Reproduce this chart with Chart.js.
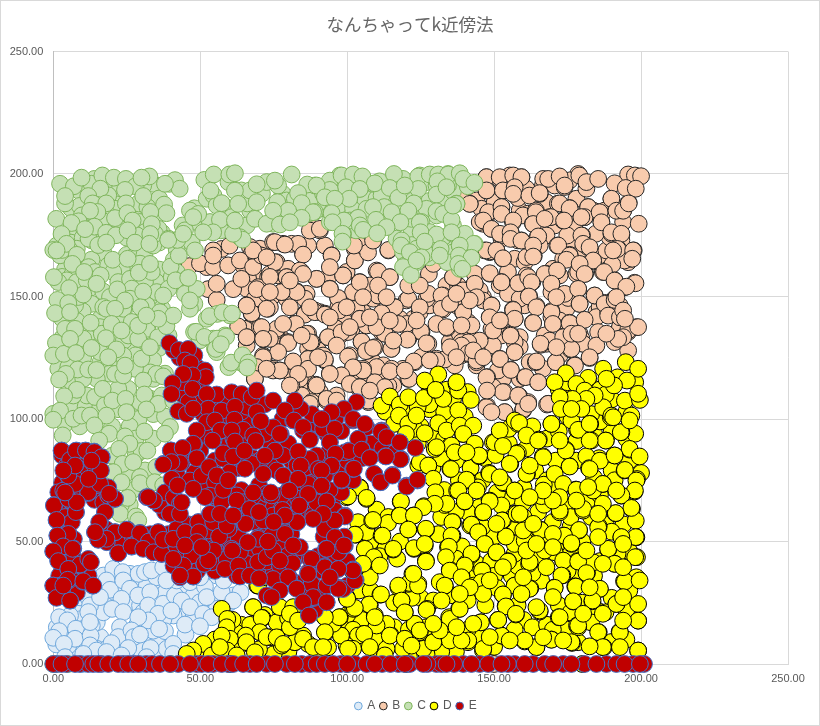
<!DOCTYPE html>
<html><head><meta charset="utf-8">
<script src="https://cdn.jsdelivr.net/npm/chart.js@4"></script>
<style>
html,body{margin:0;padding:0;background:#fff}
#w{position:relative;width:820px;height:726px;overflow:hidden}
#f{position:absolute;left:0;top:0;width:818px;height:724px;border:1px solid #d9d9d9;pointer-events:none}
canvas{display:block}
</style></head><body>
<div id="w"><canvas id="c" width="820" height="726"></canvas><div id="f"></div></div>
<script>
const chartTitle = "なんちゃってk近傍法";
const seriesNames = ["A","B","C","D","E"];
const axisMax = 250, axisStep = 50;

const pointsA = [[20.4,38.8],[23.6,37.5],[29,36.8],[31.2,37.5],[35.1,35.4],[33.4,38.2],[37.4,39.5],[18.1,34.1],[19.3,30.3],[23.8,34.1],[26.1,30.7],[28.9,28],[33,29.3],[23.2,26.6],[12.5,23.9],[11.9,21.2],[15.9,27.3],[20,22.5],[23.8,21.2],[32.3,23.9],[37.4,24.6],[41.4,28],[43.7,25.9],[46.5,23.2],[42,34.1],[46.5,33.4],[51.6,31.6],[52.2,27.3],[57.3,29.3],[58,34.1],[53.4,38.2],[51,20.5],[53.9,19.1],[63.7,29.3],[61.2,25.9],[35.7,20.5],[32.3,17.8],[28.9,19.1],[40.2,21.8],[44.8,16.1],[49.9,15.4],[38,13.4],[36,14.4],[22.7,15],[2,19.1],[4.8,17.8],[2,13.4],[0,10.7],[7.7,14.4],[7.4,10.3],[3.6,8.2],[12.7,11.6],[12.5,7.6],[22.1,11],[19.8,8.5],[26.6,13.7],[27.4,11],[29.5,12],[25.5,6.5],[33.1,6.5],[40.8,8.2],[40.8,4.1],[4,2.8],[14.7,5.5],[10.2,4.1],[18.1,4.9],[23.2,3.5],[31.7,2.8],[12.5,17.1],[38.5,34.1],[50,35.4],[10,0],[30,0]];
const moreA = [[10.2,22.5],[9.7,18.4],[14.8,17],[13.1,15.7],[17.6,24.5],[17,21.1],[14.2,30.7],[9.1,27.2],[11.9,27.2],[21,29.3],[26.1,36.8],[17,36.1],[21.6,32],[31.8,32],[27.2,25.2],[29.5,23.9],[34,21.1],[30.6,21.1],[40.9,19.8],[41.4,24.5],[47.7,27.9],[49.9,25.2],[55.6,22.5],[51,36.1],[55.6,36.1],[47.7,19.1],[35.8,15.7],[23.8,13],[28.4,15.7],[34,13.6],[1.2,15],[5.7,19.8],[10.2,14.3],[10.2,10.2],[14.8,6.2],[5.1,7.5],[18.2,6.2],[29.5,6.2],[38.6,6.2],[37.5,18.4],[60.1,25.2],[61.3,28]];
const hiddenA = [[15,32],[27,34],[40,37],[47,37],[26,26],[34,32],[38,29],[44,31],[55,26],[48,22],[44,20],[16,11],[32,9],[36,10],[24,8],[7,7],[1,8],[6,11],[30,4],[37,4],[45,12]];

const pointsB = [[147.4,198.7],[151.9,198.7],[156.5,199.4],[159.3,198.7],[166.7,198],[168.4,198],[172.3,199],[179,199.4],[181.4,196.7],[185.4,198],[195.6,199.8],[197.9,199.4],[200,199.1],[191,196.2],[194.8,194.3],[198.2,194],[138.9,192.6],[147.4,193.3],[153,193.3],[157,194.6],[156.5,191.9],[162,191.2],[165.5,192.2],[174,195.3],[172.3,188],[175.7,186],[182,186.5],[180.8,182.4],[185.9,184.4],[189.9,189.9],[191.6,185],[193.9,185],[195.8,188],[186.5,180.3],[199.2,179.7],[141.7,187.8],[148,184.4],[146.3,181],[152.5,186.5],[152.5,183.7],[156.5,181],[164.2,184.4],[163.3,179.6],[169.3,182.4],[167.2,181.7],[173.8,181],[179.7,182.4],[149.1,177.6],[152,175.6],[155.6,176.2],[155.6,173.5],[159.3,172.8],[165,174.5],[163.3,170.8],[171.8,170.8],[179.7,174.9],[180.3,171.5],[182.5,170.1],[189.9,176.2],[193.3,175.6],[192,169.4],[190.5,168.8],[197.3,168.8],[197,165.4],[183.7,164.7],[175.7,166.7],[174.6,165],[179.1,163.3],[180.8,159.2],[187.4,160],[191,156.5],[198.1,155.4],[195,154],[147.4,168.8],[150.8,168.8],[153,165.6],[148.5,159.5],[152.5,155.8],[158.2,155.4],[163.3,166.3],[161.6,157.9],[167.2,159.2],[171.4,160.6],[162.7,155.8],[169.5,155.2],[143.4,155.2],[136,157.9],[127.8,159.2],[129.3,163.3],[127.6,151.1],[132.1,150.4],[120.8,149],[110.5,150.4],[102,151.8],[96.9,149.4],[94.1,153.1],[82.8,151.8],[77.7,151.8],[73.7,145.6],[149.1,146.3],[144,149.7],[156.5,144.5],[161.8,150],[164.4,145.6],[169.5,143.6],[174,151.1],[178.6,153.1],[179.1,147],[184.2,150.4],[187.6,147],[191,148.6],[188.8,142.2],[139.5,143.6],[132.1,145],[124.7,145.6],[116.2,145.6],[111.7,143.2],[97.3,144.3],[85.6,142.6],[89,143.6],[92.4,142.6],[148.5,141.5],[157,140.9],[163.3,139.2],[170,138.8],[175.7,139.1],[180.8,140.5],[192.8,137.5],[195.6,136.1],[199,137.5],[193.9,133.4],[192.2,132.7],[130.4,138.8],[133.8,137.5],[138.9,138.2],[120.2,138.8],[117.4,138.8],[112.8,134.8],[106.6,138.2],[104.3,140.9],[96.1,137],[82.5,138.8],[86.2,134.8],[87.5,131.3],[76,136.8],[125.1,135.8],[120.5,132.4],[127,130.9],[104.9,131.6],[93.5,133.4],[98.1,135.4],[96.4,130],[79.9,131],[76.5,127.3],[73.7,132.7],[145.1,132],[141.2,131.3],[138.9,130],[141.2,126.9],[155.6,134],[157,127.3],[152,124.5],[165.8,130.7],[173.5,133.4],[180.3,130.7],[184.8,130],[176.3,128.6],[182.5,125.2],[188.2,134.8],[106.4,127.7],[108.8,129],[115,128.6],[100.3,125.5],[92.4,124.3],[86.7,124.5],[81.6,123.5],[77.1,119.8],[133.2,124.3],[122.7,123.5],[130.4,123.9],[144,123.9],[164.4,123.5],[171,123.2],[177.5,121.8],[155.7,120],[160.7,117.1],[165,115],[147.4,117],[153,111],[158.7,108.9],[161.6,106.9],[168,105.9],[147.4,104.8],[153.6,102.8],[160,104.1],[147.6,111.6],[114.5,119.5],[109.4,115],[105.4,119.8],[102,121.1],[98,117.8],[94.1,118.4],[89.3,114],[86.7,120.5],[81,113.7],[83.3,118.4],[103.7,113],[100.9,114.3],[121.1,116.4],[119.6,119.8],[112.8,113],[93,107.5],[87.9,106.9],[107.1,107.5],[85,167.1],[94.7,166.7],[102.6,164.7],[114,169],[110.5,160.2],[107.1,168],[98.6,158.6],[94.1,162],[83.9,160.6],[79.4,157.9],[89.6,157.2],[73.7,159.2],[75.4,172.2],[78.8,171.2],[75.4,164],[87.3,176.9],[90.7,177.6],[102.3,170.8],[108.8,172.8],[114.5,157.9],[104.3,155.8],[110.5,154.5],[120.8,154.5],[124.7,154.5],[46.3,162.4],[52.2,162],[49.9,163.5],[57.3,169.4],[54.4,168.8],[60,170.8],[54.4,162],[59.5,162.7],[63.5,164.7],[68,162],[70.9,166.7],[73.7,158],[69.2,153],[61.2,153],[52.7,153],[55.6,148.6],[67.5,143.2],[65.8,146.3],[72.6,145],[62.9,137.8],[65.8,133.4],[70.9,137.5],[71.4,132.7],[71.4,125.2],[69.2,121.2],[68.6,116.4],[72.6,120.5],[73.7,151.8],[55.6,155.2],[64,157.2],[54.4,166.7],[68,168.8],[72.6,166],[192.8,141.5],[191.6,149.7],[171.2,149.7],[176.3,134.8],[178.6,134.8],[171.2,129.3],[193.9,144.3],[194.5,140.9],[135,129.3],[142.9,128],[146.3,125.2],[137.2,125.2],[128.1,123.9],[149.7,136.1],[152,140.2],[100.9,137.5],[110,137.5],[115.7,132],[90.1,125.2],[84.5,134],[78.2,138.8],[80.5,145.6],[87.3,145.6],[94.1,141.5],[107.7,141.5],[114.5,140.2],[123.6,140.2],[135,147],[141.7,148.4],[137.2,151.1],[99.8,145.6],[105.4,149.7],[113.4,149.7],[85,159.2],[80.5,156.5],[149.1,102.8],[158.2,109.6],[161.6,106.2],[168.4,106.2],[80.5,113.7],[89.6,113.7],[93,108.2],[96.4,107.5],[87.3,106.2],[104.3,113],[107.7,111.6],[100,0],[150,0]];
const moreB = [[67.5,167.4],[70.3,166.8],[74.8,172.2],[78.2,171.5],[76,164],[68,162.7],[64.6,162.7],[73.1,157.9],[69.7,153.8],[72.6,151.1],[77.7,151.8],[79.9,161.3],[79.4,157.9],[84.5,160],[82.8,152.1],[85.6,149.1],[89.6,157.2],[93.5,157.9],[94.1,153.2],[98.6,158.6],[97,149.1],[102.6,164.7],[102.3,151.8],[104.3,155.9],[110.6,150.4],[110,160.6],[114.5,157.9],[107.7,154.5],[114,168.8],[108.9,172.9],[104.3,170.8],[94.7,166.8],[85,167.4],[86.7,170.8],[88.4,177.6],[90.7,177],[83.3,171.5],[65.8,146.4],[67.5,142.9],[73.1,145],[70.3,137.5],[65.8,133.4],[71.4,132.8],[76,136.2],[79.9,131.4],[82.2,138.9],[85.6,143],[89,144.3],[92.4,143],[86.7,134.8],[87.9,131.4],[93.5,133.4],[96.4,136.8],[100.3,135.5],[97,145.7],[104.3,140.9],[106.6,138.2],[104.9,131.4],[107.2,128],[109.4,129.3],[112.8,134.8],[111.7,142.9],[116.2,145.7],[120.2,148.4],[115.1,128.7],[119.6,138.2],[120.8,132.8],[125.3,135.5],[127.6,130.7],[130.4,124.6],[123,123.2],[115.1,120.5],[110,121.2],[105.4,120.5],[100.9,126],[92.4,123.9],[86.7,124.6],[81.6,123.2],[77.1,119.8],[71.7,125.3],[74.8,119.8],[68.6,116.4],[81.1,113.7],[83.9,116.4],[89.6,113.7],[93,107.6],[94.1,118.5],[98.1,117.8],[102,121.2],[101.5,116.4],[104.3,113],[109.4,114.3],[107.2,106.9],[114,113.6],[120.8,116.4],[87.9,109.6],[84.5,109.6],[147.4,198.7],[151.9,198],[147.4,193.3],[153,193.3],[158.1,190.2],[161,194],[165.5,191.9],[170.6,195.3],[174,194.7],[175.7,197.4],[141.7,187.9],[147.9,183.8],[145.1,180.4],[149.1,177.6],[152.5,186.5],[156.4,180.4],[159.8,183.1],[164.2,185.1],[163.2,179.7],[168.9,182.4],[173.5,181],[171.7,187.9],[175.7,186.1],[182,186.5],[180.8,182.4],[186.5,180.4],[177.4,177.6],[184.6,175.6],[189.9,189.9],[193.9,185.1],[195.8,188.3],[191.6,185.8],[193.9,180.4],[189.9,175.6],[193.3,175],[193.3,172.9],[192.2,169.5],[196.7,165.4],[197.5,168.8],[194.4,164.7],[190.2,163],[187,160],[191,156.6],[194.4,153.8],[197.8,155.6],[155.6,176.3],[152.5,174.9],[159.3,172.9],[164.9,174.5],[171.5,170.8],[174.9,174.9],[179.9,174.9],[182,170.1],[175.7,167],[173.5,165.4],[183.7,164.3],[178.6,160],[181,159.3],[171.4,160.6],[167.6,159.3],[163.5,166.5],[161,166.1],[153,165.4],[150.8,168.8],[148.5,168.4],[148.5,159.3],[154.7,160],[152.5,155.9],[158.7,155.6],[163,155.9],[169.5,155.2],[169.5,151.8],[143.4,155.2],[178.6,152.9],[175.2,149.4],[179.1,147],[184.2,150.4],[187.6,147.4],[191,149.1],[188.8,143.6],[161.9,150.2],[164.4,146.1],[169.5,144],[172.3,140.2],[175.7,139.3],[170,138.9],[163.2,139.3],[156.4,144.7],[157,140.9],[149.1,146.4],[148.5,141.6],[149.1,136.8],[152.5,140.2],[146.2,148.4],[139.4,143.6],[136,157.9],[143.4,159.3],[132.6,150.4],[139.4,152.5],[132.6,144.7],[134,137.2],[142.3,138.2],[138.9,131.4],[141.1,126.6],[145.3,131.6],[149.6,130],[144,123.2],[151.9,124.6],[155.6,134.4],[157,127.3],[155.6,120.2],[165.9,130.3],[168.9,132],[164.2,123.2],[171,123.2],[174.4,132.8],[176,128.4],[180.3,130.7],[184.6,129.8],[182.5,124.9],[177.4,122.1],[195.6,128],[195.6,135.5],[192.7,136.8],[198.4,137.5],[191,131.4],[185.4,135.5],[160.4,117.1],[164.9,115],[147.6,117.1],[149.6,113],[153.6,111],[158.5,109.4],[161.5,106.2],[168.4,106.2],[147.6,105.3],[153.6,102.8],[159.8,103.5],[133.5,124.6],[136.6,121.9]];
const hiddenB = [[144,189.2],[145.7,185.8],[158.7,185.1],[161.5,183.8],[166.6,179.7],[170.6,179],[178,181],[177.4,170.8],[180.3,169.5],[167.8,174.9],[165.5,170.8],[158.1,172.9],[148.5,168.1],[146.8,168.8],[157,165.4],[160.4,164],[170,161.3],[172.3,158.6],[178,159.3],[185.9,166.8],[188.2,168.8],[195.6,164],[189.3,174.2],[185.9,184.5],[187.6,185.1],[183.7,185.1],[178,189.9],[181.4,194],[178.6,200],[167.8,188.5],[166.6,195.3],[155.3,199.4],[159.3,198.7],[150.2,188.5],[146.2,179.7],[152.5,173.6],[151.9,154.5],[146.2,149.8],[145.1,152.5],[140,149.8],[154.7,151.1],[160.4,146.4],[161,158.6],[158.7,149.1],[171.2,151.1],[174.6,145],[169.5,141.6],[184.8,143.6],[185.9,145.7],[192.7,146.4],[184.8,141.6],[176.9,135.5],[179.1,134.8],[179.7,132.8],[152.5,134.1],[158.7,133.4],[158.7,129.4],[157,131.4],[167.8,130.7],[167.2,134.1],[162.1,123.2],[153,116.4],[151.3,119.8],[158.7,116.4],[166.6,120.5],[172.3,126],[144,121.9],[138.9,126],[137.2,125.3],[134.9,131.4],[138.3,134.8],[142.8,132.1],[141.1,139.6],[137.2,146.4],[133.8,154.5],[137.7,154.5],[142.3,151.1],[70.3,169.5],[66.9,170.2],[81.1,171.5],[83.9,170.8],[92.4,170.8],[102.6,169.5],[99.8,160],[80.5,158.6],[76.5,158.6],[70.3,157.2],[66.3,157.2],[74.8,150.4],[80.5,150.4],[86.2,151.1],[65.8,153.2],[68.6,149.1],[86.7,143.6],[90.7,143.6],[106.6,149.8],[108.9,149.1],[105.4,143.6],[103.2,145],[99.2,139.6],[101.5,136.8],[97.5,134.1],[112.2,138.9],[111.7,135.5],[115.7,139.6],[122.5,140.9],[124.7,143.6],[128.1,146.4],[130.4,149.1],[127,149.1],[117.9,140.9],[68.6,137.5],[73.7,132.8],[77.7,132.8],[71.4,125.9],[65.2,136.8],[65.8,130],[90.1,128],[91.8,125.9],[86.7,128.7],[108.9,123.2],[112.3,121.9],[103.2,120.5],[119,120.5],[125.3,125.3],[129.3,123.9],[80.5,119.1],[74.8,120.5],[82.8,115.1],[86.7,115.1],[90.7,111],[96.4,109.6],[106,114.4],[111.1,116.4],[115.7,113.7],[107.2,111],[79.4,149.1]];

const pointsC = [[2.3,196],[7,195],[9.6,198.5],[16.7,199.4],[20.6,198.5],[24.7,198],[28,195],[32.7,199],[30,198.5],[39.5,196],[41.4,197.5],[43,194],[38,196],[37.7,187.5],[38.5,184],[30.6,191],[24.4,193.5],[16,194],[11.9,191],[4,188],[4,191],[13.4,188],[18,188],[24.7,188],[15,184.5],[21,182],[25.2,184],[27,181],[12.5,185],[33,184.5],[1,181.7],[8.6,180.7],[6.2,180],[14,178.5],[33.5,179.5],[18,176],[21.3,175],[25.3,177],[2.8,175.5],[10.8,177.5],[33,175.5],[27.8,172],[32.7,171.5],[15.3,171],[18,172],[3,169],[4.5,171.5],[0,169],[1.1,168.8],[8,167],[0.2,157.9],[6.5,163.3],[10.5,160],[16.1,158.6],[20.2,165],[25.3,165.4],[29.1,159.7],[32.9,163.3],[39.9,162.2],[42.7,166.7],[48.2,168.8],[42.2,173.1],[39.1,173.1],[44.2,175.6],[49.3,183.7],[56.7,181.3],[54.4,176.2],[51,176.2],[64.4,173.2],[61.2,175.6],[68.6,181.7],[57.3,188.1],[61.8,193.2],[69.2,195.8],[51.4,197.6],[54.6,199.8],[59.9,199.8],[61.8,200.3],[53.5,193.2],[62.9,187.8],[69.2,188.5],[72.6,179.7],[47.6,182.4],[61.8,181],[41.6,156.6],[37.4,150.4],[44.8,151.1],[48.8,153.1],[46.5,148.4],[45.9,157.6],[30.6,152],[21.8,152.9],[24.4,148.4],[29.7,145.6],[18.1,145],[21,145],[10.2,150.8],[5.4,153.4],[1.4,148.6],[5.1,147.3],[0.6,143.2],[5.7,143.6],[14.7,155.2],[7.4,136.8],[12.7,139.3],[19.8,138.8],[23.2,136.1],[17.9,133],[28.9,132.7],[35.7,133.4],[38.5,137.9],[40.8,142.2],[35.7,140.9],[28.9,138.1],[31.7,142.2],[0.9,131.1],[0,125.9],[3.6,126.6],[5.7,132.7],[7.7,126.9],[13,129],[21.5,128.4],[18.7,125.2],[30,124.6],[32.9,129.3],[8.3,120.2],[11.9,120.2],[4.3,118.4],[2,116.1],[14.7,120],[21,118.4],[23.8,117.8],[24.4,121.8],[35.1,118.4],[37.4,117.4],[30.6,115.7],[8,111.9],[3.7,109.3],[16.8,112.3],[20.1,107.5],[24.6,108.2],[31,110],[35.7,106.2],[31.7,103.9],[24.9,102.8],[40.8,107.5],[2.3,103.4],[0,99.7],[6.8,100.1],[9.6,101.4],[12.5,101.4],[18.1,101.4],[14,97.4],[3.2,93.3],[24.4,92.9],[31,94.9],[39.7,96.7],[38,94],[15.6,91.2],[25.9,89.9],[22.4,87.8],[32,87.1],[23.6,81.7],[20.4,78.3],[31.2,79],[27.2,82.4],[29.5,76.3],[35.1,80.4],[25.3,67.8],[22.7,61.3],[28.1,60.2],[23.2,74.2],[29.5,73.8],[34.5,74.2],[37.4,72.9],[28.9,58.6],[53.1,142],[57.6,143.5],[60.8,143],[48.6,135.6],[51.4,133.5],[55.7,132.8],[58.8,133.6],[55.3,128.6],[57,130.5],[60.5,123],[64.4,126],[66.4,123],[66,121],[81.1,199.8],[75.4,197.3],[86.4,195.7],[94.1,197.3],[98.1,199.4],[102,199.8],[105.2,199],[109.4,196.2],[115.9,200],[124.2,199],[128.1,199.8],[131,199.8],[134.4,199.8],[138.3,200.3],[139.5,198],[143.3,196.4],[130.7,197],[124.2,193.9],[114.5,194.3],[99.6,194.6],[94.1,193.5],[83.3,192.2],[104.3,193.9],[89.6,195.3],[117.4,190.3],[130.4,191.6],[100.7,189.9],[92.4,190.5],[95.8,189.9],[84.5,188.1],[76.2,188.5],[119.6,195.3],[133.8,194.6],[122.7,188],[137.2,187.8],[112.6,186.5],[108.8,186.5],[120.8,185],[79.9,185],[74.8,185],[88.4,184.4],[94.7,184],[84.5,182.1],[130.4,184.8],[132.7,183.7],[135.5,181.3],[136,187.1],[109.8,181.3],[115.1,184.4],[118.1,180.3],[124.7,180.3],[103.7,182.1],[98.9,181],[95,180.3],[77.1,179.4],[80.5,180.3],[104.3,179],[105.4,177.2],[113.4,178.3],[110.2,175.8],[125,176.2],[130.4,175.3],[140,175.6],[135.5,176.2],[98.4,175.6],[98.4,172.4],[118.5,172.9],[126.4,172.4],[143.1,171.5],[131.8,169.4],[138.3,170.8],[118.3,170.8],[121.3,168.1],[125.3,166],[138,166.7],[142.3,165.8],[119,162],[137.8,163.3],[121.7,158.8],[139.2,161.3],[131.5,166.7],[123.6,164.7],[0,0],[1,0],[5,0],[40,0]];
const moreC = [[4.6,193.7],[12,194.7],[13,196],[19.9,195.3],[22.7,194.2],[30.6,195.3],[18.7,191.3],[14.8,189.9],[21,185.8],[18.7,183.1],[9.7,183.1],[10.2,178.3],[16.5,181.1],[32,186.5],[34.6,181.7],[35.8,177.6],[29.5,180.4],[21.6,178.3],[31.2,176.3],[34,170.8],[28.4,175],[13.1,172.9],[8,169.5],[5.7,168.8],[2.3,166.8],[1.2,170.8],[6.3,158.6],[4.6,156.6],[1.7,155.9],[8,155.9],[12,162],[11.4,156.6],[14.2,160],[18.7,162.7],[23.3,161.3],[20.4,160],[22.1,155.9],[26.1,157.2],[31.2,155.9],[26.7,153.2],[33.5,160],[29.5,163.4],[26.1,149.1],[32.9,149.8],[35.2,151.8],[40.3,157.9],[45.4,157.2],[39.2,153.2],[46.5,145],[7.4,146.4],[8.5,149.8],[4,145],[19.3,149.8],[17,145.7],[23.8,145],[31.8,146.4],[36.3,143.6],[4,136.8],[10.2,132.8],[15.9,137.5],[16.5,134.8],[26.7,139.6],[29.5,135.5],[31.8,136.8],[25.5,134.1],[33.5,130],[39.2,134.1],[23.8,125.9],[18.7,128.7],[15.9,127.3],[10.2,125.3],[5.7,125.9],[2.3,129.3],[1.7,120.5],[5.1,121.2],[17.6,119.1],[19.3,118.5],[27.8,120.5],[38,118.5],[34,116.4],[14.8,116.4],[6.3,115],[10.2,116.4],[25.5,112.3],[22.1,112.3],[11.4,109.6],[14.2,109],[6.8,109.6],[17.6,105.6],[29.5,106.9],[32.9,108.3],[36.9,109.6],[0,102.1],[46.5,185.1],[52.2,189.9],[54.5,191.3],[59.6,196.7],[55.6,187.2],[51,177.6],[48.8,180.4],[44.8,177],[60.7,182.4],[53.3,180.4],[63,175],[34.6,175.6],[39.2,173.6],[22.7,177.6],[12,173.6],[52.2,140.9],[55.8,142.9],[60.1,142.3],[47.9,135.5],[49.9,132.1],[55,128.7],[54.5,132.8],[57.3,132.8],[59.6,121.2],[58.4,134.1],[55.6,127.3],[64,193.3],[66.9,193.3],[72.6,196.7],[76.5,195.3],[79.4,189.2],[82.2,189.9],[87.3,189.2],[89,195.3],[91.8,191.9],[96.4,191.9],[100.9,192.6],[104.3,194],[97.5,199.4],[99.8,197.4],[108.9,196],[111.7,191.3],[116.8,193.3],[119,198],[124.7,199.4],[127,196.7],[130.4,195.3],[127,185.8],[122.5,189.2],[130.4,183.1],[121.9,181.7],[125.3,180.4],[128.1,176.3],[123.6,169.5],[116.8,173.6],[119,168.1],[119.6,162.7],[123.6,164],[127,167.4],[108.9,185.8],[106.6,185.8],[110,179.7],[100.9,181],[103.2,181.7],[97.5,180.4],[94.1,180.4],[89,184.5],[74.8,179.7],[77.7,183.1],[65.8,179],[63.5,174.2],[98.6,175.6],[63.5,123.2],[65.2,121.9],[134.3,200],[131.5,196.7],[134.3,195.3],[137.2,187.9],[133.2,183.8],[136,179],[132.6,174.2],[136,175.6],[143.4,171.5],[138.3,170.8],[141.1,165.4],[138.3,161.3]];
const hiddenC = [[9,193],[14,198],[26,195],[34,196],[6,186],[9,187],[28,186],[36,190],[20,191],[29,188],[8,176],[12,181],[24,180],[30,178],[37,176],[14,174],[25,174],[36,172],[6,172],[10,174],[17,168],[25,167],[28,167],[31,167],[36,161],[4,161],[9,161],[13,165],[22,162],[27,162],[35,156],[12,153],[17,152],[28,154],[3,158],[8,152],[24,144],[13,147],[10,144],[3,141],[8,140],[16,141],[23,139],[32,138],[37,145],[3,133],[12,135],[20,131],[27,129],[36,129],[7,130],[10,129],[16,130],[24,132],[28,126],[34,124],[16,123],[3,122],[7,123],[19,122],[33,119],[6,105],[11,105],[16,105],[27,105],[22,104],[34,102],[29,100],[38,101],[4,98],[20,97],[26,97],[34,92],[28,92],[19,94],[9,97],[20,85],[28,85],[30,87],[25,78],[33,76],[26,65],[23,65],[27,71],[78,192],[82,187],[87,184],[92,186],[97,187],[102,186],[106,190],[111,197],[114,189],[118,186],[124,184],[128,189],[133,190],[136,193],[141,195],[110,190],[90,188],[79,182],[103,177],[114,181],[122,177],[128,172],[122,171],[128,166],[133,172],[136,168],[141,169],[134,164],[120,165],[67,185],[71,192],[66,188],[58,182],[60,186],[48,186],[51,180],[57,177],[44,179],[47,172],[42,169],[41,165],[45,154],[42,160],[48,147],[35,147]];

const pointsD = [[111.7,105.5],[114.5,109.2],[117.9,105.9],[120.8,108.9],[117.6,101.4],[120.8,98],[123.6,101.4],[126.1,108.6],[130,111.9],[132.7,108.2],[137.2,114.3],[137.8,111.6],[142.1,107.8],[137.8,103.5],[131,98.3],[126.4,94.2],[120,93.9],[133.8,95.3],[138.3,97.3],[142.9,97.3],[139.5,93.9],[135.5,89.2],[130.4,88.5],[136.6,86.4],[143.4,89.9],[144.9,85.1],[140.6,86.4],[124.7,82.4],[127.6,81],[129.3,75.6],[135.3,79.6],[140.6,75.2],[137.8,70.8],[130,70.1],[133.8,65.4],[129.8,65.4],[125.9,64],[140,66.4],[144,70.8],[148.5,66.4],[146.3,62],[150.2,90.5],[157,99.4],[158.5,98.4],[161,93.3],[165,91.2],[157.6,85.8],[155.3,81.7],[148.5,77.6],[153,74.2],[157,70.8],[161,77.6],[166.7,84.4],[169.5,98],[174.4,87.1],[176.3,99.4],[178.6,95.6],[182.5,98],[188,91.2],[193.1,94.6],[196.1,87.8],[199.5,84.7],[186,83],[191,85.1],[182.5,79.6],[175.7,80.6],[170.6,77.6],[173.5,73.5],[178,71.1],[187,73.5],[194.5,79.2],[198.4,74.9],[197.9,70.8],[193.3,68.8],[196.7,63.7],[191.4,61.6],[185.4,55.8],[198.2,51.8],[193.3,51.8],[188.8,47],[198,43.6],[191,40.9],[198.4,35.4],[194.5,33.7],[186,30.7],[199,24.5],[191.6,24.5],[199,17.7],[192.8,13],[185.4,13],[187,6.9],[199,5.5],[178.6,15],[176.3,8.9],[169.5,9.9],[164.4,6.9],[160.4,9.6],[152.5,11.6],[141.2,9.6],[146.3,6.2],[134.9,18.4],[138.9,9.6],[129.3,8.9],[123,16.4],[124.7,13.7],[114.5,11.6],[119.6,10.3],[121.9,7.5],[105.8,12.3],[97.9,11.6],[95.2,16.4],[97.3,19.1],[92.4,19.1],[92.4,13],[82.2,8.9],[79.9,18.8],[80.5,15],[89.6,5.5],[100.3,6.2],[107.7,6.9],[112.8,3.5],[104.3,71.9],[106.6,67.8],[100.3,68.4],[97.5,70.1],[118.3,66.4],[117.9,60.6],[122.7,60.6],[126.8,55.2],[120.8,54.9],[108.8,58.8],[102.6,52.8],[112,52.4],[115.7,47],[122.7,47.3],[126.4,49],[126.8,41.8],[109.1,43.6],[105.4,40.9],[111.1,40.2],[135.8,57.9],[142.3,56.9],[144.6,53.8],[135.5,52.4],[134.6,47.9],[133.6,43.6],[142.3,45],[146.8,49],[150.8,45.6],[154.7,41.8],[140,40.2],[134.9,38.1],[145.9,38.1],[145.7,33.4],[157,32],[133.2,32],[138.9,35.4],[152.7,58.6],[157.6,61.3],[154,52],[160.4,50.4],[165.8,54.7],[172.3,62.6],[180.3,63.3],[178.9,54.7],[173.8,52.4],[176.3,49.3],[167.2,46.3],[162.1,41.6],[173.5,42.2],[178.6,41.8],[181.4,37.1],[172.9,36.1],[170.6,31.1],[177.8,31.6],[162.1,30.7],[153,28.4],[159.3,28.6],[154,23.5],[157.4,20.5],[165.5,21.8],[172.3,19.1],[176.9,25.6],[183.5,25.9],[178.6,15.7],[151.4,18],[145.5,17],[138.3,22.5],[132.1,25.9],[127,22.1],[121.1,33.1],[117.4,32],[118.5,25.9],[119.6,21.1],[124.1,32],[122.5,36.8],[107.5,24.3],[111.5,28.4],[102.6,22.9],[100,26.6],[109.4,19.1],[159.9,54.5],[163.3,57.2],[170,53.1],[172.3,68.1],[182,72.2],[187,65.4],[191.6,70.8],[162.1,81],[151.9,76.2],[170,66.7],[178,66.7],[185.4,61.3],[166.7,70.8],[162.1,68.1],[158.7,61.3],[150.8,57.2],[161,46.3],[164.4,49],[170,47.7],[181.4,46.3],[185.4,51.8],[193.9,49],[193.9,39.5],[182.5,31.3],[170,27.3],[164.4,23.2],[180.3,20.5],[187,20.5],[193.9,17.7],[182.5,7.2],[192.8,6.9],[173.5,9.6],[166.7,10.9],[155.3,9.6],[148.5,11],[142.9,16.4],[137.2,15],[131.5,13.7],[129.3,16.4],[146.3,28.6],[141.7,31.3],[138.3,28.6],[148.5,34.1],[153,39.5],[159.9,35.4],[167.8,39.5],[187,40.9],[199.5,34.1],[193.9,27.3],[194.8,123.2],[199,120.5],[187.1,120.5],[195.2,115.7],[190.8,113.7],[194.5,107.5],[199.6,107.8],[187.1,104.8],[189.9,101.4],[196.7,101.4],[174.4,118.7],[182,116.8],[170.6,115],[178,114.3],[180.8,111.6],[184.2,109.6],[181.4,108.2],[176.7,108.2],[172.3,108.9],[172.7,104.1],[179.7,104.1],[176.3,104.1],[188.2,116.4],[199,110.3],[131,118.2],[126.4,115.7],[130.1,111.9],[137.2,115],[151.9,95.3],[153,89],[172.3,91.2],[182.5,91.2],[190.5,100.7],[196.1,99.4],[57.3,22.5],[61,18],[59.2,18.4],[68,23.2],[70.9,18.8],[59,15],[70.3,13],[65.5,11.6],[60.1,10.3],[57.3,11.6],[65.7,8.9],[51,8.2],[47.6,5.5],[45.4,4.1],[53.9,3.5],[59.2,5.5],[68.6,4.8],[72.6,11],[69.7,32],[71.4,35.4],[56.7,6.9],[62.4,3.5],[76,10.9],[78.2,8.2],[85,10.3],[88.4,6.9],[91.8,6.9],[77.1,23.2],[81.6,23.2],[80.5,20.5],[83.3,17.7],[60,0],[120,0],[180,0]];
const moreD = [[139.4,93.9],[135.1,89.2],[143.4,89.8],[144.9,84.8],[149.6,90.5],[150.5,85.3],[158.1,98],[158.1,86.2],[165.2,91.6],[169.5,98],[166.6,84.8],[174.4,87.5],[178.2,95.7],[182.7,98],[183.1,91.2],[188,91.2],[189.7,100.7],[193.3,94.6],[196.1,87.5],[191,85.1],[185.7,84],[181.4,84.8],[175.7,80.7],[182.3,79.9],[194.4,79],[198.6,75.5],[187,73.5],[177.8,71.2],[173.2,73.5],[170.1,73.1],[166.9,73.2],[161.2,77.6],[155.5,81.7],[148.3,78],[153.3,73.8],[157,70.8],[166.1,68.5],[159.8,65.8],[157,61.3],[148.5,66.7],[140,66.3],[137.4,70.8],[135.1,79.6],[141.1,74.9],[144.5,72.1],[146.2,61.9],[152.5,64.7],[133.2,64.9],[136,57.9],[141.9,56.5],[144.5,54],[135.8,52.4],[134.3,47.7],[133.2,32],[142.3,44.5],[146.8,49],[150.8,45.4],[154.7,42],[140.3,40.9],[134.9,38.5],[146,38.1],[146,33.4],[157,32],[138.9,36.1],[153,58.6],[153.9,52.1],[157.8,61.3],[160.4,50.4],[165.7,54.9],[172.3,61.9],[180.3,62.6],[178.9,54.5],[173.7,52.4],[176.3,49],[167.2,46.3],[161.9,40.9],[173.5,42.2],[178.3,42],[181.6,37.2],[173.2,36.1],[170.6,31.3],[177.6,31.7],[162.3,30.9],[153,28.3],[159.3,28.6],[153.9,23.6],[157.4,20.2],[165.5,21.4],[172,19.1],[176.9,25.5],[183.4,25.6],[178.2,15.7],[151.3,18],[145.4,17],[138.1,22.5],[191,40.9],[188.8,46.7],[194.2,33.8],[199,34.7],[198.6,43.6],[193.3,51.7],[198.4,51.7],[185.6,56.2],[191.3,61.5],[196.9,63.3],[198.2,58.5],[193.3,68.7],[197.8,70.4],[183.7,70.8],[165.5,54.5],[160.2,50],[162.1,47.7],[157,49],[165.5,43.6],[170.6,45.6],[183.7,41.5],[185.9,30.6],[191.6,24.5],[187.9,21.1],[199,17.7],[192.7,13.2],[185.6,13],[187.3,6.8],[199,5.5],[178.6,8.9],[176.5,8.6],[169.5,10],[164.4,6.9],[160.4,9.2],[152.5,11.6],[141.1,8.9],[146.2,5.5],[134.7,19.1],[133.8,14.3],[134.9,9.6],[97.5,70.1],[99.8,68.1],[104.3,72.1],[106.6,67.4],[103.7,57.9],[103,52.8],[106.6,53.8],[108.5,58.5],[111.7,52.4],[118.2,66.3],[122.5,60.6],[117.9,60.9],[126.1,64.4],[120.8,54.9],[113.9,57.6],[126.8,54.9],[115.7,46.7],[122.7,47],[126.4,48.3],[126.8,42.1],[105.5,40.4],[109.2,43.2],[107.7,35.4],[102.1,37.5],[111.3,28.3],[107.7,24.1],[102.1,22.5],[99.8,27.3],[109.4,19.8],[120.8,32.7],[117.4,31.3],[118.5,25.9],[119.6,21.1],[124.2,32.7],[122.2,36.8],[131.5,33.4],[129.3,25.9],[127.2,22.5],[123,16.4],[124.7,13],[114.7,11.9],[119.6,10.2],[129.3,8.9],[105.7,12.3],[97.9,11.6],[95.2,16.1],[97.5,19.1],[92.4,19.1],[92.7,13],[82.2,8.9],[79.7,18.8],[80.8,15],[73.7,10.9],[89.6,5.5],[65.2,10.2],[71.4,35.4],[69.4,32],[68,23.2],[71.2,18.8],[70.3,13],[75.7,11.6],[78.2,19.1],[76,17],[109.4,10.2],[103.7,11.6],[113.4,16.4],[110,15.7],[99.8,7.5],[85,11.6],[86.7,8.2],[77.7,7.5],[93.5,6.8],[102,6.2],[119,6.2],[125.9,6.2],[113.4,6.2],[124.2,81],[127.6,81],[129.8,87.8]];
const hiddenD = [[136,100],[140,101],[128,104],[133,103],[125,97],[129,93],[124,90],[133,92],[137,83],[142,80],[147,84],[146,75],[138,75],[133,71],[129,80],[132,84],[152,94],[155,90],[161,88],[163,97],[155,96],[168,92],[172,95],[178,91],[184,94],[190,95],[195,92],[198,94],[186,99],[171,83],[164,79],[178,83],[184,76],[190,79],[196,83],[200,78],[191,75],[168,75],[160,72],[155,68],[151,70],[145,64],[141,62],[137,62],[132,60],[131,53],[139,48],[137,43],[141,36],[144,41],[149,42],[150,36],[143,32],[136,28],[141,26],[147,24],[151,31],[156,36],[158,40],[157,45],[150,52],[146,56],[156,56],[163,52],[168,50],[172,47],[176,45],[180,50],[176,56],[170,58],[165,62],[160,60],[167,65],[174,65],[176,60],[183,60],[188,57],[182,67],[186,69],[194,57],[190,54],[196,46],[192,45],[186,42],[184,36],[178,36],[175,38],[166,34],[163,37],[158,24],[160,18],[163,15],[168,16],[172,24],[176,21],[180,25],[185,22],[190,27],[196,30],[195,22],[195,10],[190,9],[183,17],[175,14],[170,14],[157,14],[150,7],[145,11],[141,14],[137,5],[132,5],[127,11],[127,4],[121,3],[110,63],[114,60],[108,50],[113,47],[118,50],[117,43],[106,47],[111,44],[104,30],[108,30],[105,18],[100,20],[98,15],[102,14],[107,8],[110,4],[116,15],[121,14],[127,15],[125,27],[122,27],[116,25],[83,12],[80,5],[75,4],[70,6],[64,16],[63,7],[62,13],[55,10],[50,3],[67,16],[72,20],[177,112],[183,113],[186,112],[190,108],[195,103],[198,115],[192,117],[188,110],[172,112],[175,115],[175,101],[183,102],[128,113],[134,112],[136,108],[128,106],[141,111],[113,103],[119,103],[124,105],[116,98],[123,96]];

const pointsE = [[0.2,64.7],[1.1,58.8],[5.1,67.4],[7.7,62],[3.4,70.8],[11.9,70.1],[7.4,73.5],[15.9,73.5],[5.1,53.1],[1.4,52.4],[3.4,48],[0,46],[1.7,42],[9.1,40.6],[11.9,42.9],[12.8,41.6],[5.1,38.8],[4.9,34.4],[10.2,33.8],[13.6,32],[0,32],[1.1,27],[5.7,25.9],[3.4,32],[6.6,47],[17.6,62],[15.6,57.9],[21,67.4],[19,69.5],[21,53.8],[18.1,51.1],[15.3,50.7],[14.2,53.8],[24.9,54.8],[29.5,53.4],[22.1,45.2],[26.6,48],[32.5,50],[30.6,47],[34.1,45.6],[36.9,45],[35.7,53.8],[39.7,61.3],[34.2,66.7],[32.3,68.1],[37.4,50.7],[40.8,51.1],[43.1,61.3],[43.7,66],[44.8,53.8],[49.3,57.9],[49.6,53.8],[48.8,49.8],[54.4,57.9],[56.4,52],[44.8,48.4],[51.4,40.9],[44.2,40.2],[47.6,35.7],[43.1,36.1],[40.8,42.9],[54.6,46.3],[60.9,46.3],[52.7,42.3],[58.4,38.8],[63,40.2],[63.5,35.7],[66.9,36.1],[69.7,41.6],[72.6,28],[51.6,68.1],[53.4,61.3],[57.8,71.1],[62.4,66.7],[66.9,63.3],[59,56.5],[65.4,57.2],[69.7,51.1],[66.2,49.7],[72.6,69.5],[71.4,58.6],[72.6,43.6],[42.3,72.9],[47.6,71.5],[56.7,61.3],[61.2,60.6],[50.5,47.7],[39.5,131],[42.7,128.2],[45.9,128.6],[44.8,123.9],[46.7,122.8],[51.6,119.8],[51.9,117.1],[47.4,117.8],[44.2,118.4],[40.6,114.6],[40.2,110.2],[47.4,112.3],[55.6,110],[52.2,110.2],[60.7,110.9],[64.1,110.2],[67.5,108.9],[69.2,111.6],[42.5,103.2],[45.4,102.1],[52.7,104.2],[47.6,104.2],[57.3,103.4],[61.8,105],[69.2,102.8],[70.6,99.1],[52.2,98.7],[55,99.4],[61.6,99.7],[64.6,95.6],[56.9,95.3],[60.7,95.3],[48.8,95.3],[68,93.3],[68.9,91],[47.6,89.9],[54.2,91.2],[61.8,90.8],[57.8,86],[61.2,84.7],[40,87.2],[44,88.2],[48.8,84],[43.1,82],[40.2,82.4],[37.4,81.4],[53,80.4],[55.6,77],[67.5,81.7],[65.2,79.7],[71.4,77.6],[59.5,75],[2.8,87.1],[5.7,83.3],[7.7,87.1],[11.1,87.1],[14,86.5],[16.4,84.4],[16.2,79],[5.1,76.9],[12,75.6],[7.4,81],[3.4,79],[103.2,106.9],[98.9,104.1],[94.7,102.8],[91.3,100],[84.2,104.1],[82.2,107.5],[74.8,107.5],[78.8,103.5],[81.9,99.4],[85,96.7],[77.1,93.9],[75.4,87.1],[83.3,86.7],[87.3,91.5],[94.1,90.5],[100.6,86.9],[96,85.8],[102,100],[106,98],[111.5,94.9],[113.4,92.6],[117.9,90.5],[123.2,88.2],[118.1,83.5],[113.2,84.7],[104.9,87.5],[107.7,84.1],[102.3,79.7],[94.7,81],[91.3,79],[84.2,81],[78.2,76.9],[83.3,75.6],[98.1,75.2],[91.3,72.8],[86.7,69.4],[80.3,70.8],[74.3,68.8],[109.2,77.6],[111.3,74.2],[115.4,76.9],[120.2,72.4],[123.9,75.2],[93,66.4],[83.7,64.7],[78,62.9],[99.2,60.2],[95.8,58.6],[91.8,61.3],[88.4,59.2],[83,57.9],[78.8,60.6],[78.8,53.1],[95.8,51.8],[81.6,48.4],[74.8,46.3],[97,45.6],[93,47],[98.9,48.4],[87.9,42.9],[81.4,41.1],[77.1,42.2],[92.4,39.5],[102.6,34.1],[102,38.2],[97,38.8],[79.9,35.4],[87.9,32.7],[93,32],[97,30.7],[77.1,30],[82.8,30.7],[88.4,27.3],[93,25.2],[85,25.2],[87,19.8],[74.3,27.3],[86.7,36.8],[94.1,35.4],[65,87],[72,85],[74,70],[70,62],[68,70],[75,58],[73,50],[70,35],[8,66],[4,70],[13,83]];
const moreE = [[2.9,87.1],[8,87.1],[10.8,87.1],[13.9,86.7],[16.5,84.4],[16.1,79],[5.7,83.4],[7.4,81],[4.6,81],[5.1,76.6],[7.4,75.6],[12.3,75.1],[11.9,69.8],[15.9,72.8],[18.7,72.1],[21,67.4],[18.7,68.7],[4,70.8],[1.7,70.1],[5.7,66.7],[0.3,64.9],[7.7,61.9],[1.2,58.5],[1.4,52.4],[5.1,53.5],[6.3,57.9],[3.4,48],[6.8,47.2],[0,45.9],[1.7,42.2],[9.1,40.2],[11.9,41.8],[5.1,38.8],[5.1,34],[10,33.6],[13.4,32],[0,32],[1.2,27.2],[5.7,25.9],[2.3,32],[17.6,61.9],[15.9,57.9],[21,53.8],[18.2,49.7],[15.3,50.8],[14.2,53.8],[25.2,54.9],[29.5,53.5],[22.1,45.2],[26.7,47.9],[32.7,50],[30.6,47.7],[34,45.6],[36.9,44.9],[35.7,53.8],[40,87.1],[37.5,81.7],[43.7,82.1],[48.8,84.4],[42,72.8],[47.7,71.5],[53,80],[55.6,76.9],[57.3,95.3],[54.5,91.2],[47.9,89.8],[61.3,91.9],[61.8,87.1],[57.9,83.7],[57.3,71.5],[51.6,72.1],[34.3,66.7],[31.8,68.1],[39.7,61.3],[43.1,65.4],[53.3,61.3],[61.3,60.6],[44.8,53.8],[49.4,57.9],[49.4,50.4],[56.2,52.4],[54.5,47],[44.8,48.4],[44.3,40.2],[40.9,40.2],[47.7,35.7],[43.1,35.4],[51.3,40.9],[58.4,38.8],[62.4,36.1],[60.7,47],[42,55.1],[47.1,44.3],[53.9,41.5],[59,42.9],[52.8,54.5],[59.6,55.1],[40.3,75.6],[46.5,74.9],[50.5,76.9],[55,74.2],[60.1,78.3],[62.4,68.8],[53.3,68.7],[57.3,66],[70.3,99.4],[65.8,93.2],[68.9,91.2],[67.5,82.4],[71.4,77.6],[78.2,76.9],[83.3,75.6],[79.9,70.8],[72.6,69.4],[66.9,63.3],[77.7,63.3],[86.7,69.4],[91.3,72.8],[93.2,66.3],[98.1,74.9],[102,79.6],[94.7,81],[83.3,86.4],[87.3,91.9],[94.1,90.5],[100.6,87.1],[96.4,85.8],[77.4,93.9],[75.4,87.1],[81.6,99.4],[91.3,99.4],[102,99.4],[106.6,96.6],[111.7,95.3],[113.4,92.6],[117.9,90.5],[118.3,83.7],[113,84.8],[104.9,87.8],[107.7,84.4],[109.2,77.6],[111.5,74.2],[115.4,77.2],[120.2,72.8],[123.9,74.9],[95.8,62.6],[99.2,60.6],[95.8,58.5],[92.4,55.1],[88.4,60.6],[83.1,57.9],[78.8,53.8],[72.6,59.2],[69.7,51.7],[65.2,57.2],[74.3,52.4],[95.8,51.7],[81.6,48.3],[73.7,46.3],[97.3,45.9],[92.8,47],[99.2,48.3],[87.3,42.9],[81.4,41.1],[72.6,41.8],[68,44.3],[92.4,39.9],[102.9,34.3],[102,38.6],[97,38.8],[80.3,35.3],[88.2,32.7],[93.2,32],[96.9,31.3],[76.9,30],[82.8,30.9],[88.4,26.9],[93,25.2],[85,25.2],[87,20],[73.5,27.7],[86.7,37.5],[94.1,36.1],[64.6,37.5],[65.8,40.9],[63.5,45.6],[70.3,47],[77.1,47],[79.9,44.3],[83.9,47.7],[77.1,40.2],[74.8,34.7],[90.7,30.6],[86.7,29.3],[98.6,30.6],[83.3,67.4],[89.6,66],[74.8,60.6],[69.7,62],[64.6,66],[82.8,81],[78.2,85.1],[89.6,85.1],[87.3,83.7],[70.9,83.7],[65.2,81],[74.8,96.6],[85,95.3],[91.8,96],[95.8,96],[103.7,91.9],[99.2,86.4],[90.1,79.6],[77.7,68.8],[92.4,76.9],[86.7,73.5]];
const hiddenE = [[3,85],[9,84],[12,80],[9,78],[3,74],[9,70],[14,67],[17,66],[2,62],[4,60],[3,55],[7,51],[2,45],[7,43],[3,38],[8,36],[12,36],[2,36],[8,29],[3,29],[18,55],[22,50],[27,52],[33,53],[39,47],[39,53],[42,50],[46,57],[46,51],[41,45],[45,44],[48,42],[49,38],[55,38],[54,43],[57,46],[60,50],[63,52],[63,45],[66,44],[71,47],[74,42],[68,38],[72,37],[75,38],[79,38],[83,44],[90,44],[90,38],[83,33],[85,29],[89,22],[91,30],[95,42],[100,42],[100,32],[99,52],[92,52],[81,53],[75,49],[72,54],[68,58],[62,58],[65,62],[58,60],[56,57],[51,55],[53,50],[44,58],[41,62],[38,62],[36,65],[38,70],[41,68],[55,68],[60,70],[64,71],[67,67],[70,66],[72,64],[75,64],[80,66],[83,70],[88,64],[90,67],[95,65],[98,70],[97,78],[102,75],[100,83],[105,84],[108,90],[112,88],[116,86],[104,92],[98,95],[93,94],[88,98],[80,90],[74,90],[72,94],[66,98],[64,103],[58,99],[51,102],[50,107],[56,106],[60,108],[66,105],[72,106],[78,100],[88,102],[96,100],[44,110],[46,107],[50,113],[44,115],[49,121],[48,126],[43,125],[41,128],[52,93],[50,87],[46,85],[42,85],[51,78],[48,78],[42,78],[55,83],[59,89],[63,80],[68,84],[74,81],[76,79],[81,83],[88,79],[92,84],[94,87],[70,73],[59,73],[88,74],[94,71],[84,62],[81,58],[75,56]];
const baselineE = [[1.1,0],[4.5,0],[9,0],[11.9,0],[16.4,0],[23.8,0],[27.2,0],[31.7,0],[48.8,0],[50.5,0],[54.4,0],[59.5,0],[66.9,0],[72.6,0],[79.4,0],[84.5,0],[87.3,0],[89.6,0],[92.4,0],[102.6,0],[106.6,0],[117.4,0],[121.3,0],[130.4,0],[132.1,0],[139.5,0],[157,0],[163.3,0],[167.2,0],[173.5,0],[180.8,0],[188.2,0],[191.6,0],[197.3,0],[201,0],[33.6,0],[42.5,0],[97.8,0],[111.9,0],[127.3,0],[136.4,0],[145.1,0],[154.7,0],[0,0],[2.8,0],[7.4,0],[13.6,0],[15.3,0],[18.7,0],[22.1,0],[25.5,0],[28.9,0],[36.3,0],[39.7,0],[46.5,0],[52.7,0],[57.3,0],[61.2,0],[64.6,0],[69.2,0],[75.4,0],[82.2,0],[95.2,0],[100,0],[109.4,0],[114.7,0],[119.6,0],[125.9,0],[133.8,0],[142.3,0],[148,0],[152.5,0],[160.4,0],[170.1,0],[176.3,0],[184.8,0],[194.4,0],[199.6,0]];

const fills = ["#deebf7","#f8cbad","#c5e0b4","#ffff00","#c00000"];
const edges = ["#6fa8dc","#262626","#7fb55c","#000000","#4472c4"];
const allPoints = [
  hiddenA.concat(moreA,pointsA),
  hiddenB.concat(moreB,pointsB),
  hiddenC.concat(moreC,pointsC),
  hiddenD.concat(moreD,pointsD),
  hiddenE.concat(moreE,pointsE,baselineE)
];
const grey = "#595959";
const tickFont = {family:'"Liberation Sans"',size:11};

Chart.defaults.devicePixelRatio = 1;
new Chart(document.getElementById("c"),{
  type:"scatter",
  plugins:[{id:"legendShift",afterLayout(c){c.legend.left+=6;c.legend.right+=6;}}],
  data:{datasets:seriesNames.map((n,i)=>({
    label:n,
    data:allPoints[i].map(p=>({x:p[0],y:p[1]})),
    backgroundColor:fills[i],borderColor:edges[i],
    pointRadius:8.4,pointBorderWidth:1,pointHoverRadius:8.4,clip:false,
    order:seriesNames.length-i
  }))},
  options:{
    responsive:false,animation:false,
    layout:{padding:{left:0,right:0,top:0,bottom:4}},
    events:[],
    plugins:{
      title:{display:true,text:chartTitle,color:"#666666",
        font:{family:'"Noto Sans CJK JP"',size:17.5,weight:"normal",lineHeight:1.2},
        padding:{top:14,bottom:16.5}},
      legend:{position:"bottom",align:"center",
        labels:{usePointStyle:true,pointStyle:"circle",boxWidth:6,boxHeight:5.5,padding:5,color:grey,
          font:{family:'"Liberation Sans"',size:12},
          sort:(a,b)=>a.datasetIndex-b.datasetIndex}},
      tooltip:{enabled:false}
    },
    scales:{
      x:{type:"linear",min:0,max:axisMax,
        afterFit(s){s.height=31},
        grid:{color:"#d9d9d9",drawTicks:false},border:{color:"#d9d9d9"},
        ticks:{stepSize:axisStep,padding:8,color:grey,font:tickFont,maxRotation:0,callback:v=>v.toFixed(2)}},
      y:{type:"linear",min:0,max:axisMax,
        afterFit(s){s.width=53.3},
        grid:{color:"#d9d9d9",drawTicks:false},border:{color:"#bfbfbf"},
        ticks:{stepSize:axisStep,padding:10,color:grey,font:tickFont,callback:v=>v.toFixed(2)}},
      rightMargin:{type:"linear",position:"right",display:true,
        afterFit(s){s.width=32},
        grid:{display:false},border:{display:false},ticks:{display:false}}
    }
  }
});
</script>
</body></html>
